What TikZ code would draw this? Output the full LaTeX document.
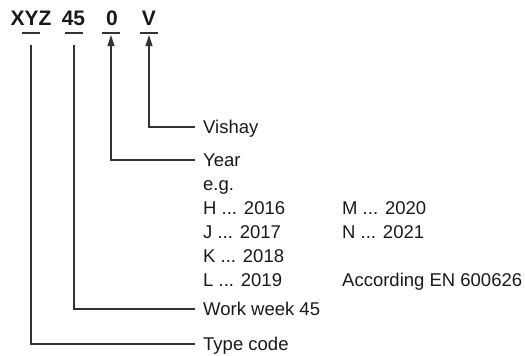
\documentclass[tikz,border=0pt]{standalone}
\usepackage{fontspec}
\setmainfont{Liberation Sans}
\usetikzlibrary{arrows.meta}
\begin{document}
\begin{tikzpicture}[x=1pt,y=-1pt,
  ln/.style={line width=1.1pt, draw=black!80},
  arr/.style={ln, -{Triangle[length=11pt,width=7pt]}},
  lbl/.style={anchor=base west, inner sep=0pt, font=\fontsize{18.5}{24}\selectfont, text=black!90},
  ttl/.style={anchor=base, inner sep=0pt, font=\fontsize{21}{24}\selectfont\bfseries, text=black!90}]
\useasboundingbox (0,0) rectangle (525,356);
% title
\node[ttl] (tXYZ) at (31,25) {XYZ};
\node[ttl] (t45) at (73.5,25) {45};
\node[ttl] (t0) at (112,25) {0};
\node[ttl] (tV) at (149,25) {V};
% underline centres
\coordinate (uX) at (31,33);
\coordinate (u45) at (74,33);
\coordinate (u0) at (111,33);
\coordinate (uV) at (149,33);
\foreach \u in {uX,u45,u0,uV}
  \draw[ln] ([xshift=-9pt]\u) -- ([xshift=9pt]\u);
% connector ends at the top
\coordinate (sX) at (31,45);
\coordinate (s45) at (74,45);
\coordinate (a0) at (111,35);
\coordinate (aV) at (149,35);
% labels
\node[lbl] (vishay) at (203,133.6) {Vishay};
\node[lbl] (year) at (203,166.6) {Year};
\node[lbl] (eg) at (203,190.6) {e.g.};
\node[lbl] (h) at (203,214.6) {H ... 2016};
\node[lbl] (j) at (203,238.6) {J ... 2017};
\node[lbl] (k) at (203,262.6) {K ... 2018};
\node[lbl] (l) at (203,286.6) {L ... 2019};
\node[lbl] (m) at (342,214.6) {M ... 2020};
\node[lbl] (n) at (342,238.6) {N ... 2021};
\node[lbl] (acc) at (342,286.6) {According EN 600626};
\node[lbl] (work) at (203,315.6) {Work week 45};
\node[lbl] (type) at (203,350.6) {Type code};
% connectors
\draw[arr] ([shift={(-8,-6.6)}]vishay.base west) -| (aV);
\draw[arr] ([shift={(-8,-6.6)}]year.base west) -| (a0);
\draw[ln] ([shift={(-8,-6.6)}]work.base west) -| (s45);
\draw[ln] ([shift={(-8,-6.6)}]type.base west) -| (sX);
\end{tikzpicture}
\end{document}
